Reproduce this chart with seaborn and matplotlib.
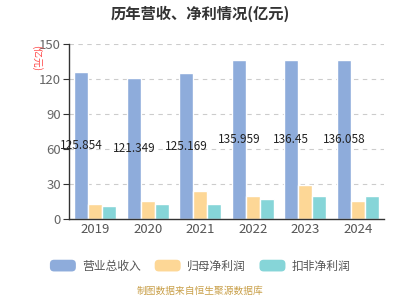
import pandas as pd
import numpy as np
import seaborn as sns
import matplotlib.pyplot as plt
from matplotlib.patches import FancyBboxPatch
from matplotlib.legend_handler import HandlerPatch

sns.set_style('white')
plt.rcParams['font.family'] = ['Noto Sans CJK SC', 'DejaVu Sans']

years = ['2019', '2020', '2021', '2022', '2023', '2024']
revenue = [125.854, 121.349, 125.169, 135.959, 136.45, 136.058]
net_profit = [12.9, 15.7, 24.3, 20.3, 29.1, 15.7]
net_profit_deducted = [11.4, 12.9, 13.4, 17.4, 20.3, 20.0]
series_names = ['营业总收入', '归母净利润', '扣非净利润']
colors = ['#8eacdb', '#fdd796', '#86d5d8']

df = pd.DataFrame({
    'year': years * 3,
    'value': revenue + net_profit + net_profit_deducted,
    'series': [s for s in series_names for _ in years],
})

fig = plt.figure(figsize=(4, 3), dpi=100)
ax = fig.add_axes([0.173, 0.269, 0.787, 0.584])

sns.barplot(data=df, x='year', y='value', hue='series', palette=colors,
            saturation=1, width=0.8, edgecolor='white', linewidth=1,
            ax=ax, legend=False)

# value labels in the middle of the revenue bars
for i, v in enumerate(revenue):
    ax.text(i - 0.8 / 3, v / 2, str(v), ha='center', va='center',
            fontsize=8.5, color='#222222')

ax.set_ylim(0, 150)
ax.set_yticks(range(0, 151, 30))
ax.set_xlim(-0.5, 5.5)
ax.set_xticks(np.arange(-0.5, 6, 1), minor=True)
ax.tick_params(axis='x', which='major', length=0, labelsize=9.5, colors='#555555', pad=3)
ax.tick_params(axis='x', which='minor', length=4, color='#333333', width=1)
ax.tick_params(axis='y', length=4, color='#333333', labelsize=9.5, colors='#666666', pad=2, left=True)
ax.set_xlabel('')
ax.set_ylabel('')
for y in range(30, 151, 30):
    ax.axhline(y, color='#cccccc', linestyle=(0, (4, 4)), linewidth=0.8, zorder=0)
for side in ['top', 'right']:
    ax.spines[side].set_visible(False)
for side in ['left', 'bottom']:
    ax.spines[side].set_color('#333333')
    ax.spines[side].set_linewidth(1)

fig.text(0.5, 0.955, '历年营收、净利情况(亿元)', ha='center', va='center',
         fontsize=11, fontweight='bold', color='#333333')
fig.text(0.0925, 0.805, '(亿元)', ha='center', va='center', rotation=270,
         fontsize=7, color='#ff4444')


class RoundHandler(HandlerPatch):
    def create_artists(self, legend, orig_handle, xdescent, ydescent,
                       width, height, fontsize, trans):
        p = FancyBboxPatch((-xdescent, -ydescent), width, height,
                           boxstyle='round,pad=0,rounding_size=3',
                           facecolor=orig_handle.get_facecolor(), edgecolor='none',
                           transform=trans)
        return [p]


handles = [plt.Rectangle((0, 0), 1, 1, facecolor=c) for c in colors]
fig.legend(handles, series_names, loc='center', bbox_to_anchor=(0.5, 0.113),
           ncol=3, frameon=False, fontsize=8.5, handlelength=2.2, handleheight=1.15,
           columnspacing=1.2, handletextpad=0.5, labelcolor='#555555',
           handler_map={plt.Rectangle: RoundHandler()})

fig.text(0.5, 0.015, '制图数据来自恒生聚源数据库', ha='center', va='bottom',
         fontsize=7, color='#c9a04a')

plt.savefig('out.png', dpi=100)
